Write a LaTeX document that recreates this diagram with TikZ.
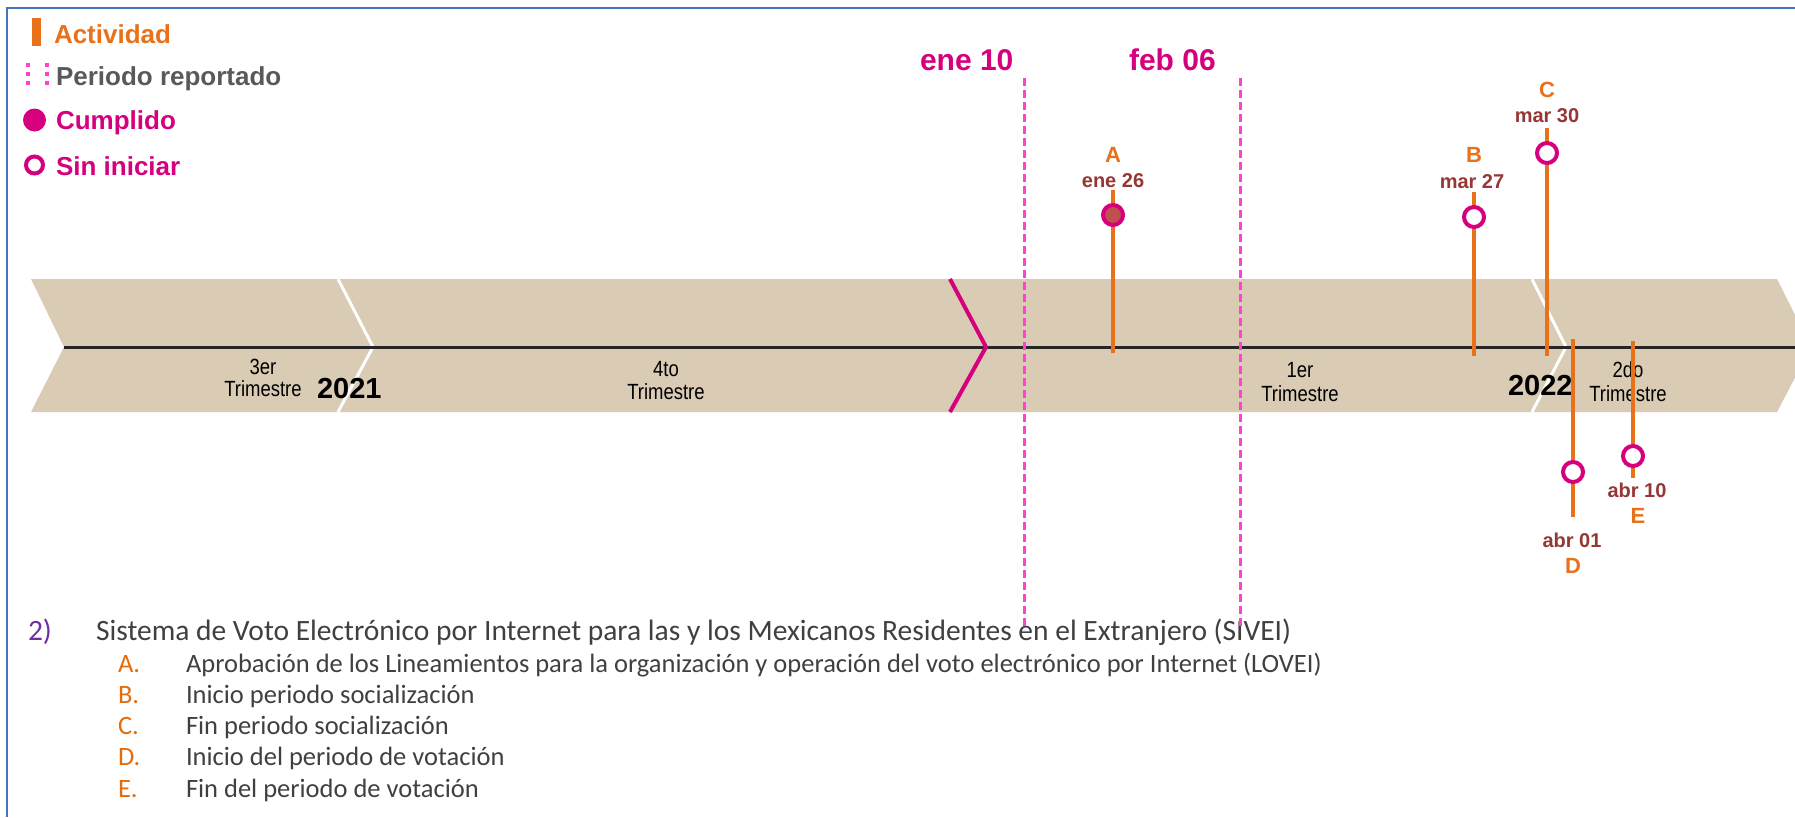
\documentclass[tikz,border=0pt]{standalone}
\usepackage{fontspec}
\setmainfont{Liberation Sans}
\newfontfamily\calfont{Carlito}
\newfontfamily\narrowfont[FakeStretch=0.84]{Liberation Sans}
\definecolor{orangeA}{RGB}{232,113,26}
\definecolor{magentaA}{RGB}{214,0,127}
\definecolor{pinkdash}{RGB}{255,64,208}
\definecolor{datecol}{RGB}{149,55,53}
\definecolor{greytxt}{RGB}{89,89,89}
\definecolor{bandcol}{RGB}{217,203,180}
\definecolor{frameblue}{RGB}{68,114,196}
\definecolor{purpleA}{RGB}{112,48,160}
\definecolor{darktxt}{RGB}{64,64,64}
\definecolor{donefill}{RGB}{192,80,77}
\definecolor{listorange}{RGB}{228,108,10}
\tikzset{
  stem/.style={orangeA, line width=4pt},
  pending/.style={circle, draw=magentaA, line width=4pt, fill=white, minimum size=20pt, inner sep=0pt},
  done/.style={circle, draw=magentaA, line width=4pt, fill=donefill, minimum size=20pt, inner sep=0pt},
  perdash/.style={pinkdash, line width=3pt, dash pattern=on 8pt off 4pt},
  sepline/.style={white, line width=3pt},
  letterlbl/.style={font=\bfseries\fontsize{22}{26}\selectfont, text=orangeA, anchor=base},
  datelbl/.style={font=\bfseries\fontsize{20}{24}\selectfont, text=datecol, anchor=base},
  qtxt/.style={font=\narrowfont\fontsize{22}{26}\selectfont, text=black, anchor=base},
  yeartxt/.style={font=\bfseries\fontsize{29}{32}\selectfont, text=black, anchor=base west},
  legtxt/.style={font=\bfseries\fontsize{26}{30}\selectfont, anchor=base west},
  titletxt/.style={font=\calfont\fontsize{29.5}{33}\selectfont, text=darktxt, anchor=base west},
  listtxt/.style={font=\calfont\fontsize{26.5}{30}\selectfont, text=darktxt, anchor=base west},
  listlet/.style={font=\calfont\fontsize{26.5}{30}\selectfont, text=listorange, anchor=base west}
}
\begin{document}
\begin{tikzpicture}[x=1pt,y=-1pt, every node/.style={inner sep=0pt, outer sep=0pt}]
\useasboundingbox (0,0) rectangle (1795,817);
\fill[white] (0,0) rectangle (1795,817);
\draw[frameblue, line width=2.5pt] (7,817) -- (7,8) -- (1795,8);

% legend
\fill[orangeA] (32,18) rectangle (41,46);
\draw[pinkdash, line width=4pt, dash pattern=on 4pt off 5pt] (28,63) -- (28,90);
\draw[pinkdash, line width=4pt, dash pattern=on 4pt off 5pt] (47,63) -- (47,90);
\fill[magentaA] (34.5,120) circle (11.5);
\node[circle, draw=magentaA, line width=4pt, minimum size=17pt] (legsin) at (34.5,165) {};
\node[legtxt, text=orangeA] (legact) at (54,43) {Actividad};
\node[legtxt, text=greytxt] (legper) at (56,85) {Periodo reportado};
\node[legtxt, text=magentaA] (legcum) at (56,129) {Cumplido};
\node[legtxt, text=magentaA] (legsi) at (56,175) {Sin iniciar};

% band
\fill[bandcol] (31,279) -- (1777,279) -- (1811,347) -- (1777,412) -- (31,412) -- (64,347) -- cycle;
\coordinate (s1t) at (338,279); \coordinate (s1m) at (373,347); \coordinate (s1b) at (338,412);
\coordinate (s2t) at (1532,279); \coordinate (s2m) at (1566,347); \coordinate (s2b) at (1532,412);
\draw[sepline] (s1t) -- (s1m) -- (s1b);
\draw[sepline] (s2t) -- (s2m) -- (s2b);
\coordinate (axL) at (64,347); \coordinate (axR) at (1795,347);
\draw[black!85, line width=3pt] (axL) -- (axR);
\coordinate (pct) at (950,279); \coordinate (pcm) at (986,347); \coordinate (pcb) at (950,412);
\draw[magentaA, line width=4pt] (pct) -- (pcm) -- (pcb);

% quarter texts
\node[qtxt] (q3a) at (263,374) {3er};
\node[qtxt] (q3b) at (263,396) {Trimestre};
\node[yeartxt] (y21) at (317,398) {2021};
\node[qtxt] (q4a) at (666,376) {4to};
\node[qtxt] (q4b) at (666,399) {Trimestre};
\node[qtxt] (q1a) at (1300,377) {1er};
\node[qtxt] (q1b) at (1300,401) {Trimestre};
\node[yeartxt] (y22) at (1508,395) {2022};
\node[qtxt] (q2a) at (1628,377) {2do};
\node[qtxt] (q2b) at (1628,401) {Trimestre};

% reported period
\node[font=\bfseries\fontsize{30}{33}\selectfont, text=magentaA, anchor=base west] (ene10) at (920,70) {ene 10};
\node[font=\bfseries\fontsize{30}{33}\selectfont, text=magentaA, anchor=base west] (feb06) at (1129,70) {feb 06};
\coordinate (d1t) at (1024,78); \coordinate (d1b) at (1024,630);
\coordinate (d2t) at (1240,78); \coordinate (d2b) at (1240,630);

% activities
\coordinate (At) at (1113,190); \coordinate (Ab) at (1113,353);
\coordinate (Bt) at (1474,192); \coordinate (Bb) at (1474,356);
\coordinate (Ct) at (1547,128); \coordinate (Cb) at (1547,356);
\coordinate (Dt) at (1573,339); \coordinate (Db) at (1573,517);
\coordinate (Et) at (1633,341); \coordinate (Eb) at (1633,478);
\draw[stem] (At) -- (Ab);
\draw[stem] (Bt) -- (Bb);
\draw[stem] (Ct) -- (Cb);
\draw[stem] (Dt) -- (Db);
\draw[stem] (Et) -- (Eb);
\node[done] (Ac) at (1113,215) {};
\node[pending] (Bc) at (1474,217) {};
\node[pending] (Cc) at (1547,153) {};
\node[pending] (Dc) at (1573,472) {};
\node[pending] (Ec) at (1633,456) {};

\node[letterlbl] (Al) at (1113,162) {A};
\node[datelbl] (Ad) at (1113,187) {ene 26};
\node[letterlbl] (Bl) at (1474,162) {B};
\node[datelbl] (Bd) at (1472,188) {mar 27};
\node[letterlbl] (Cl) at (1547,97) {C};
\node[datelbl] (Cd) at (1547,122) {mar 30};
\node[datelbl] (Dd) at (1572,547) {abr 01};
\node[letterlbl] (Dl) at (1573,573) {D};
\node[datelbl] (Ed) at (1637,497) {abr 10};
\node[letterlbl] (El) at (1638,523) {E};

% list
\node[titletxt, text=purpleA] (n2) at (28,640) {2)};
\node[titletxt] (title) at (96,640) {Sistema de Voto Electrónico por Internet para las y los Mexicanos Residentes en el Extranjero (SIVEI)};
\node[listlet] (lA) at (118,672) {A.};
\node[listtxt] (tA) at (186,672) {Aprobación de los Lineamientos para la organización y operación del voto electrónico por Internet (LOVEI)};
\node[listlet] (lB) at (118,703) {B.};
\node[listtxt] (tB) at (186,703) {Inicio periodo socialización};
\node[listlet] (lC) at (118,734) {C.};
\node[listtxt] (tC) at (186,734) {Fin periodo socialización};
\node[listlet] (lD) at (118,765) {D.};
\node[listtxt] (tD) at (186,765) {Inicio del periodo de votación};
\node[listlet] (lE) at (118,797) {E.};
\node[listtxt] (tE) at (186,797) {Fin del periodo de votación};

\draw[perdash] (d1t) -- (d1b);
\draw[perdash] (d2t) -- (d2b);
\end{tikzpicture}
\end{document}
